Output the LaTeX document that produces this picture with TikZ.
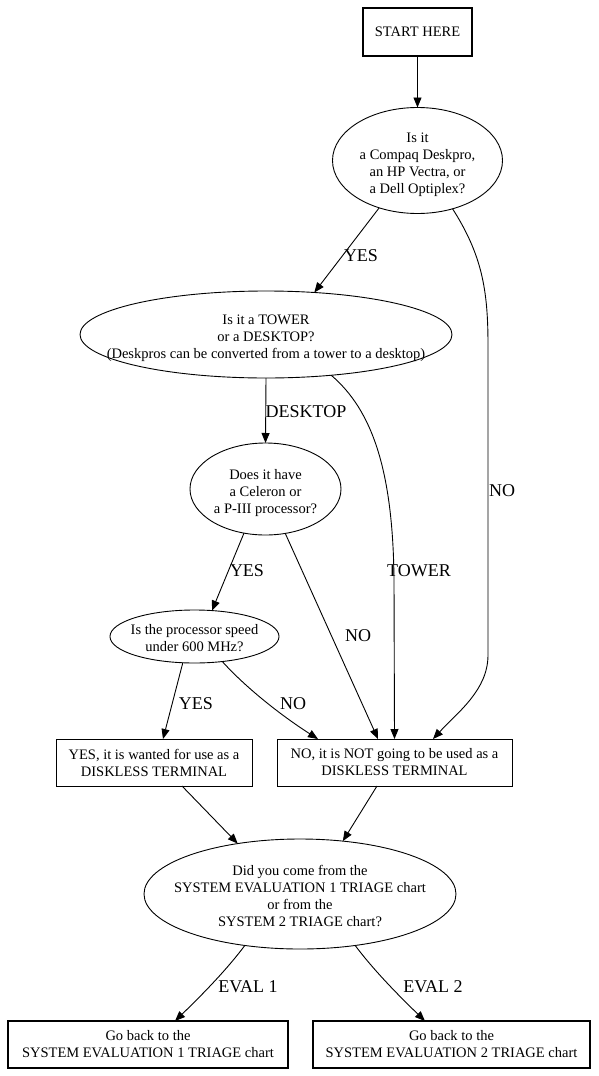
\documentclass[tikz,border=0pt]{standalone}
\usepackage{fontspec}
\setmainfont{Liberation Serif}
\usetikzlibrary{shapes.geometric,arrows.meta}
\begin{document}
\begin{tikzpicture}[x=1pt,y=-1pt,
  every node/.style={inner sep=0pt, outer sep=0pt},
  txt/.style={font=\fontsize{14.5}{17}\selectfont, align=center},
  box/.style={draw, rectangle, line width=0.9pt, txt},
  boldbox/.style={box, line width=2.6pt},
  oval/.style={draw, ellipse, line width=0.9pt},
  lbl/.style={font=\fontsize{18}{20}\selectfont},
  conn/.style={line width=0.9pt, -{Triangle[length=10pt,width=8pt]}},
]
\useasboundingbox (0,0) rectangle (599,1076);

% nodes
\node[boldbox, minimum width=109pt, minimum height=48pt] (start) at (417.5,32) {START HERE};
\node[oval, minimum width=170pt, minimum height=106pt,
  label={[txt, yshift=-4pt]center:{Is it\\a Compaq Deskpro,\\an HP Vectra, or\\a Dell Optiplex?}}] (e1) at (417.5,160.5) {};
\node[oval, minimum width=372pt, minimum height=87pt,
  label={[txt, yshift=-4pt]center:{Is it a TOWER\\or a DESKTOP?\\(Deskpros can be converted from a tower to a desktop)}}] (e2) at (266,334.5) {};
\node[oval, minimum width=151pt, minimum height=92pt,
  label={[txt, yshift=-4pt]center:{Does it have\\a Celeron or\\a P-III processor?}}] (e3) at (265.5,489) {};
\node[oval, minimum width=169pt, minimum height=53pt,
  label={[txt, yshift=-2pt]center:{Is the processor speed\\under 600 MHz?}}] (e4) at (194.5,636.5) {};
\node[box, minimum width=196pt, minimum height=47pt] (byes) at (154,762.5) {YES, it is wanted for use as a\\DISKLESS TERMINAL};
\node[box, minimum width=235pt, minimum height=47pt] (bno) at (394.5,762.5) {NO, it is NOT going to be used as a\\DISKLESS TERMINAL};
\node[oval, minimum width=312pt, minimum height=110pt,
  label={[txt, yshift=-2pt]center:{Did you come from the\\SYSTEM EVALUATION 1 TRIAGE chart\\or from the\\SYSTEM 2 TRIAGE chart?}}] (e5) at (300,894) {};
\node[boldbox, minimum width=280pt, minimum height=47pt] (ev1) at (148,1044.5) {Go back to the\\SYSTEM EVALUATION 1 TRIAGE chart};
\node[boldbox, minimum width=277pt, minimum height=47pt] (ev2) at (451.5,1044.5) {Go back to the\\SYSTEM EVALUATION 2 TRIAGE chart};

% labels
\node[lbl] (l1) at (361,256) {YES};
\node[lbl] (l2) at (502,491) {NO};
\node[lbl] (l3) at (306,412) {DESKTOP};
\node[lbl] (l4) at (419,571) {TOWER};
\node[lbl] (l5) at (247,571) {YES};
\node[lbl] (l6) at (358,636) {NO};
\node[lbl] (l7) at (196,704) {YES};
\node[lbl] (l8) at (293,704) {NO};
\node[lbl] (l9) at (248,987) {EVAL 1};
\node[lbl] (l10) at (433,987) {EVAL 2};

% connectors
\draw[conn] (start) -- (e1);
\draw[conn] (e1.-129) -- (e2.41);
\draw[conn] (e1.-54) .. controls (482,255) and (488,290) .. (488,345) -- (488,655)
  .. controls (488,690) and (458,712) .. ([xshift=38.5pt]bno.north);
\draw[conn] (e2.south) -- (e3.north);
\draw[conn] (e2.-32) .. controls (372,410) and (393,470) .. (394,580) -- (bno.north);
\draw[conn] (e3.-116) -- (e4.56);
\draw[conn] (e3.-66) -- ([xshift=-16.5pt]bno.north);
\draw[conn] (e4.-114) -- ([xshift=9pt]byes.north);
\draw[conn] (e4.-42) .. controls (248,690) and (285,718) .. ([xshift=-76.5pt]bno.north);
\draw[conn] ([xshift=28pt]byes.south) -- (e5.141);
\draw[conn] ([xshift=-17.5pt]bno.south) -- (e5.51);
\draw[conn] (e5.-137) .. controls (228,968) and (205,992) .. ([xshift=27pt]ev1.north);
\draw[conn] (e5.-43) .. controls (372,968) and (395,992) .. ([xshift=-26.5pt]ev2.north);
\end{tikzpicture}
\end{document}
